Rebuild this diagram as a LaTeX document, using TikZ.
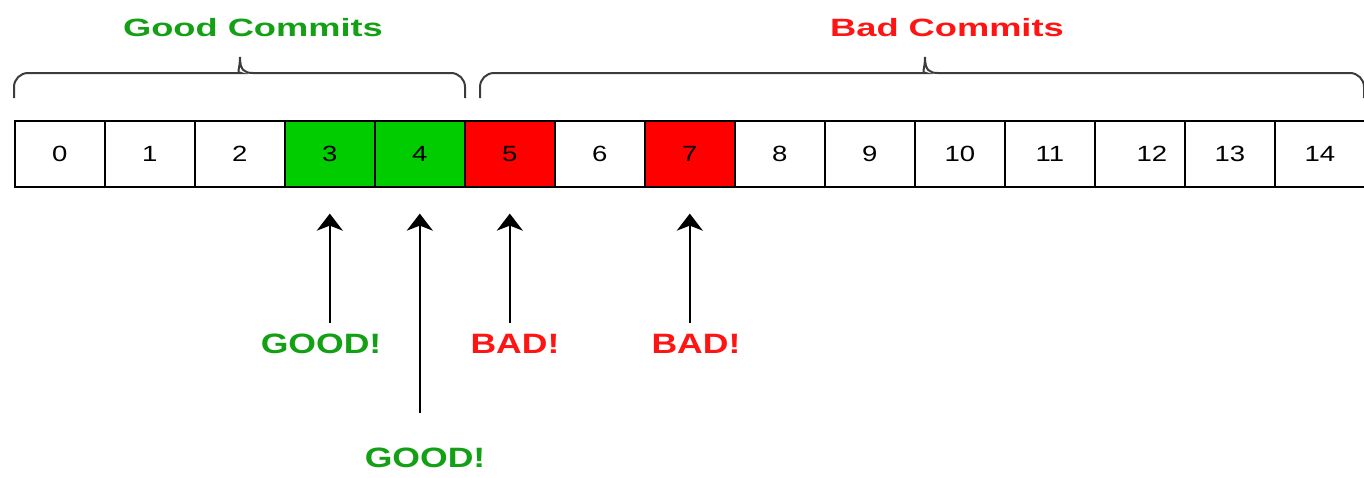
\documentclass[tikz,border=0pt]{standalone}
\usepackage{fontspec}
\setmainfont{Liberation Sans}
\newfontfamily\titlefont{Liberation Sans}[FakeStretch=1.45]
\newfontfamily\labelfont{Liberation Sans}[FakeStretch=1.27]
\newfontfamily\digitfont{Liberation Sans}[FakeStretch=1.25]
\usetikzlibrary{arrows.meta}
\definecolor{cellgreen}{RGB}{0,204,0}
\definecolor{cellred}{RGB}{255,0,0}
\definecolor{txtgreen}{RGB}{20,160,20}
\definecolor{txtred}{RGB}{255,20,20}
\definecolor{bracegray}{RGB}{60,60,60}
\tikzset{
  cell/.style={draw=black, line width=1.6pt, minimum width=90pt, minimum height=66pt, inner sep=0pt, font=\digitfont\fontsize{22}{22}\selectfont, anchor=north west},
  title/.style={font=\titlefont\bfseries\fontsize{25}{25}\selectfont, inner sep=0pt},
  lbl/.style={font=\labelfont\bfseries\fontsize{28}{28}\selectfont, inner sep=0pt},
  arr/.style={line width=2.6pt, -{Stealth[length=17pt,width=26pt,inset=5pt]}, shorten >=26pt},
  bracepath/.style={line width=2pt, bracegray, rounded corners=14pt}
}
\begin{document}
\begin{tikzpicture}[x=1pt,y=-1pt]
\useasboundingbox (0,0) rectangle (1364,477);
% cells
\foreach \i in {0,...,14}{
  \node[cell] (c\i) at ({14+90*\i},120) {};
}
\fill[cellgreen] (c3.north west) rectangle (c4.south east);
\fill[cellred] (c5.north west) rectangle (c5.south east);
\fill[cellred] (c7.north west) rectangle (c7.south east);
\foreach \i in {0,...,14}{
  \node[cell] at ({14+90*\i},120) {};
}
\foreach \i in {0,...,11,13,14}{
  \node[font=\digitfont\fontsize{22}{22}\selectfont] at (c\i.center) {\i};
}
\node[font=\digitfont\fontsize{22}{22}\selectfont] at ([xshift=12pt]c12.center) {12};
% braces
\draw[bracepath] (14,98) -- (14,73) -- (227,73) [sharp corners] .. controls (236,73) and (240,70) .. (240,57)
  .. controls (240,70) and (244,73) .. (253,73) [rounded corners=14pt] -- (465,73) -- (465,98);
\draw[bracepath] (480,98) -- (480,73) -- (912,73) [sharp corners] .. controls (921,73) and (925,70) .. (925,57)
  .. controls (925,70) and (929,73) .. (938,73) [rounded corners=14pt] -- (1364,73) -- (1364,98);
\node[title, text=txtgreen] (gc) at (253,28) {Good Commits};
\node[title, text=txtred] (bc) at (947,28) {Bad Commits};
% labels
\node[lbl, text=txtgreen] (g1) at (321,344) {GOOD!};
\node[lbl, text=txtgreen] (g2) at (425,458) {GOOD!};
\node[lbl, text=txtred] (b1) at (515,344) {BAD!};
\node[lbl, text=txtred] (b2) at (696,344) {BAD!};
% arrows
\coordinate (t1) at (c3.south |- 0,323);
\coordinate (t2) at (c4.south |- 0,413);
\coordinate (t3) at (c5.south |- 0,323);
\coordinate (t4) at (c7.south |- 0,323);
\draw[arr] (t1) -- (c3.south);
\draw[arr] (t2) -- (c4.south);
\draw[arr] (t3) -- (c5.south);
\draw[arr] (t4) -- (c7.south);
\end{tikzpicture}
\end{document}
